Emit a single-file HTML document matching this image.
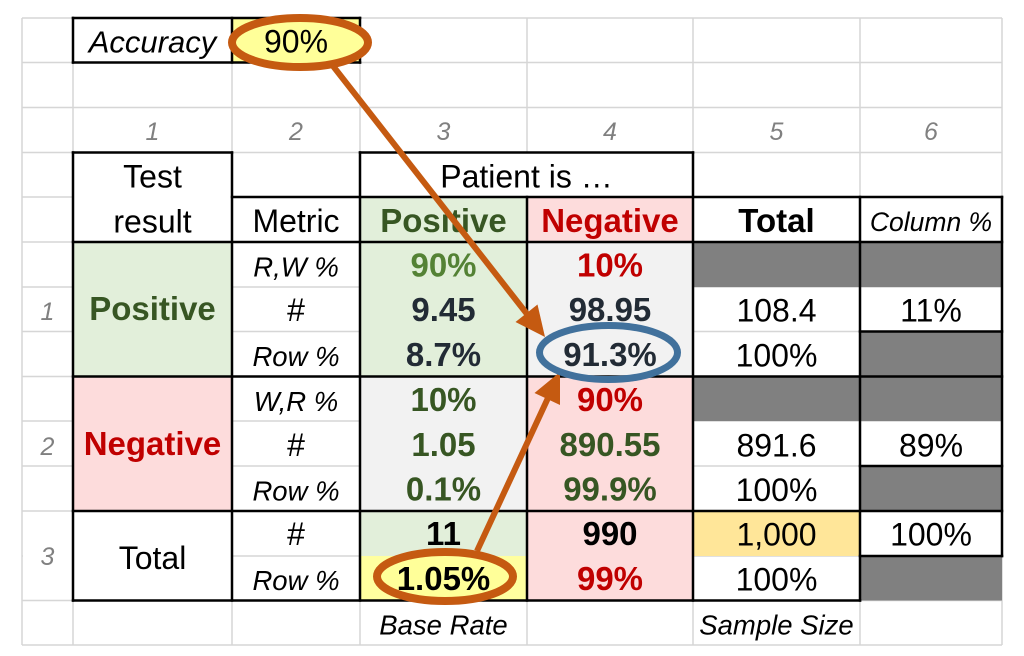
<!DOCTYPE html>
<html>
<head>
<meta charset="utf-8">
<style>
  html,body{margin:0;padding:0;background:#fff;}
  svg{display:block;}
  text{font-family:"Liberation Sans", Arial, sans-serif;}
  .r{font-size:32px;fill:#000;}
  .b{font-size:33px;font-weight:bold;}
  .i{font-size:27.5px;font-style:italic;fill:#000;}
  .n{font-size:25px;font-style:italic;fill:#808080;}
</style>
</head>
<body>
<svg width="1024" height="656" viewBox="0 0 1024 656" xmlns="http://www.w3.org/2000/svg">
  <rect x="0" y="0" width="1024" height="656" fill="#fff"/>

  <!-- light grid -->
  <g stroke="#d6d6d6" stroke-width="1.5">
    <line x1="22" y1="18" x2="1002" y2="18"/>
    <line x1="22" y1="62.5" x2="1002" y2="62.5"/>
    <line x1="22" y1="107.5" x2="1002" y2="107.5"/>
    <line x1="22" y1="152.5" x2="1002" y2="152.5"/>
    <line x1="22" y1="197" x2="1002" y2="197"/>
    <line x1="22" y1="242" x2="1002" y2="242"/>
    <line x1="22" y1="287" x2="1002" y2="287"/>
    <line x1="22" y1="331.5" x2="1002" y2="331.5"/>
    <line x1="22" y1="376.5" x2="1002" y2="376.5"/>
    <line x1="22" y1="421" x2="1002" y2="421"/>
    <line x1="22" y1="466" x2="1002" y2="466"/>
    <line x1="22" y1="511" x2="1002" y2="511"/>
    <line x1="22" y1="556" x2="1002" y2="556"/>
    <line x1="22" y1="600.5" x2="1002" y2="600.5"/>
    <line x1="22" y1="645" x2="1002" y2="645"/>
    <line x1="22" y1="18" x2="22" y2="645"/>
    <line x1="73" y1="18" x2="73" y2="645"/>
    <line x1="232" y1="18" x2="232" y2="645"/>
    <line x1="360" y1="18" x2="360" y2="645"/>
    <line x1="527" y1="18" x2="527" y2="645"/>
    <line x1="693" y1="18" x2="693" y2="645"/>
    <line x1="860" y1="18" x2="860" y2="645"/>
    <line x1="1002" y1="18" x2="1002" y2="645"/>
  </g>

  <!-- merged row-label cell "3" -->
  <rect x="23" y="512" width="49" height="87.5" fill="#fff"/>

  <!-- fills -->
  <rect x="232" y="18" width="128" height="44.5" fill="#FFFF99"/>
  <rect x="74" y="153.5" width="157" height="87.5" fill="#fff"/>
  <rect x="361" y="153.5" width="331" height="42.5" fill="#fff"/>
  <rect x="74" y="512" width="157" height="87.5" fill="#fff"/>

  <rect x="360" y="197" width="167" height="45" fill="#E2EFDA"/>
  <rect x="527" y="197" width="166" height="45" fill="#FDDCDC"/>

  <rect x="73" y="242" width="159" height="134.5" fill="#E2EFDA"/>
  <rect x="360" y="242" width="167" height="134.5" fill="#E2EFDA"/>
  <rect x="527" y="242" width="166" height="134.5" fill="#F2F2F2"/>

  <rect x="73" y="376.5" width="159" height="134.5" fill="#FDDCDC"/>
  <rect x="360" y="376.5" width="167" height="134.5" fill="#F2F2F2"/>
  <rect x="527" y="376.5" width="166" height="134.5" fill="#FDDCDC"/>

  <rect x="360" y="511" width="167" height="45" fill="#E2EFDA"/>
  <rect x="360" y="556" width="167" height="44.5" fill="#FFFF9F"/>
  <rect x="527" y="511" width="166" height="89.5" fill="#FDDCDC"/>
  <rect x="693" y="511" width="167" height="45" fill="#FFE699"/>

  <g fill="#808080">
    <rect x="693" y="242" width="167" height="45"/>
    <rect x="860" y="242" width="142" height="45"/>
    <rect x="860" y="331.5" width="142" height="45"/>
    <rect x="693" y="376.5" width="167" height="44.5"/>
    <rect x="860" y="376.5" width="142" height="44.5"/>
    <rect x="860" y="466" width="142" height="45"/>
    <rect x="860" y="556" width="142" height="44.5"/>
  </g>

  <!-- black borders -->
  <g stroke="#000" stroke-width="2.5" stroke-linecap="square">
    <line x1="73" y1="18" x2="360" y2="18"/>
    <line x1="73" y1="62.5" x2="360" y2="62.5"/>
    <line x1="73" y1="18" x2="73" y2="62.5"/>
    <line x1="232" y1="18" x2="232" y2="62.5"/>
    <line x1="360" y1="18" x2="360" y2="62.5"/>

    <line x1="73" y1="152.5" x2="232" y2="152.5"/>
    <line x1="360" y1="152.5" x2="693" y2="152.5"/>
    <line x1="232" y1="197" x2="1002" y2="197"/>
    <line x1="73" y1="242" x2="1002" y2="242"/>
    <line x1="73" y1="376.5" x2="1002" y2="376.5"/>
    <line x1="73" y1="511" x2="1002" y2="511"/>
    <line x1="73" y1="600.5" x2="860" y2="600.5"/>
    <line x1="860" y1="331.5" x2="1002" y2="331.5"/>
    <line x1="860" y1="466" x2="1002" y2="466"/>
    <line x1="860" y1="556" x2="1002" y2="556"/>

    <line x1="73" y1="152.5" x2="73" y2="600.5"/>
    <line x1="232" y1="152.5" x2="232" y2="600.5"/>
    <line x1="360" y1="152.5" x2="360" y2="600.5"/>
    <line x1="527" y1="197" x2="527" y2="600.5"/>
    <line x1="693" y1="152.5" x2="693" y2="600.5"/>
    <line x1="860" y1="197" x2="860" y2="600.5"/>
    <line x1="1002" y1="197" x2="1002" y2="556"/>
  </g>

  <!-- yellow highlighted ellipses (behind text) -->
  <ellipse cx="300" cy="42.5" rx="68" ry="24.5" fill="#FFFF99" stroke="#C55A11" stroke-width="8"/>
  <ellipse cx="445" cy="576.5" rx="68" ry="24.5" fill="#FFFF99" stroke="#C55A11" stroke-width="8"/>

  <!-- text -->
  <g text-anchor="middle">
    <text x="152.5" y="52.5" font-size="31" font-style="italic" fill="#000">Accuracy</text>
    <text class="r" x="296" y="52.5">90%</text>

    <text class="n" x="152.5" y="140">1</text>
    <text class="n" x="296" y="140">2</text>
    <text class="n" x="443.5" y="140">3</text>
    <text class="n" x="610" y="140">4</text>
    <text class="n" x="776.5" y="140">5</text>
    <text class="n" x="931" y="140">6</text>

    <text class="r" x="152.5" y="187.5">Test</text>
    <text class="r" x="152.5" y="232.5">result</text>
    <text class="r" x="526.5" y="187.5">Patient is …</text>
    <text class="r" x="296" y="232">Metric</text>
    <text class="b" x="443.5" y="232" fill="#375623">Positive</text>
    <text class="b" x="610" y="232" fill="#C00000">Negative</text>
    <text class="b" x="776.5" y="232" fill="#000">Total</text>
    <text x="931" y="231" font-size="26.5" font-style="italic" fill="#000">Column %</text>

    <text class="n" x="47.5" y="320">1</text>
    <text class="n" x="47.5" y="455">2</text>
    <text class="n" x="47.5" y="565">3</text>

    <text class="b" x="152.5" y="320" fill="#375623">Positive</text>
    <text class="b" x="152.5" y="455" fill="#C00000">Negative</text>
    <text class="r" x="152.5" y="569">Total</text>

    <text class="i" x="296" y="276.5">R,W %</text>
    <text class="r" x="296" y="321">#</text>
    <text class="i" x="296" y="366">Row %</text>
    <text class="i" x="296" y="411">W,R %</text>
    <text class="r" x="296" y="456">#</text>
    <text class="i" x="296" y="500.5">Row %</text>
    <text class="r" x="296" y="545">#</text>
    <text class="i" x="296" y="590">Row %</text>

    <text class="b" x="443.5" y="276.5" fill="#548235">90%</text>
    <text class="b" x="443.5" y="321" fill="#222B35">9.45</text>
    <text class="b" x="443.5" y="366" fill="#222B35">8.7%</text>
    <text class="b" x="443.5" y="411" fill="#375623">10%</text>
    <text class="b" x="443.5" y="456" fill="#375623">1.05</text>
    <text class="b" x="443.5" y="500.5" fill="#375623">0.1%</text>
    <text class="b" x="443.5" y="545" fill="#000">11</text>
    <text class="b" x="443.5" y="590" fill="#000">1.05%</text>

    <text class="b" x="610" y="276.5" fill="#C00000">10%</text>
    <text class="b" x="610" y="321" fill="#222B35">98.95</text>
    <text class="b" x="610" y="366" fill="#222B35">91.3%</text>
    <text class="b" x="610" y="411" fill="#C00000">90%</text>
    <text class="b" x="610" y="456" fill="#375623">890.55</text>
    <text class="b" x="610" y="500.5" fill="#375623">99.9%</text>
    <text class="b" x="610" y="545" fill="#000">990</text>
    <text class="b" x="610" y="590" fill="#C00000">99%</text>

    <text class="r" x="776.5" y="321.5">108.4</text>
    <text class="r" x="776.5" y="366.5">100%</text>
    <text class="r" x="776.5" y="456.5">891.6</text>
    <text class="r" x="776.5" y="501">100%</text>
    <text class="r" x="776.5" y="545.5">1,000</text>
    <text class="r" x="776.5" y="590.5">100%</text>

    <text class="r" x="931" y="321.5">11%</text>
    <text class="r" x="931" y="456.5">89%</text>
    <text class="r" x="931" y="545.5">100%</text>

    <text class="i" x="443.5" y="634.5">Base Rate</text>
    <text class="i" x="776.5" y="634.5">Sample Size</text>
  </g>

  <!-- arrows -->
  <g stroke="#C55A11" stroke-width="6" fill="none">
    <line x1="333" y1="66" x2="527" y2="314"/>
    <line x1="477" y1="551" x2="548" y2="398"/>
  </g>
  <g fill="#C55A11">
    <polygon points="545,337 515.5,322 537.5,304.5"/>
    <polygon points="560,372 534.5,393 560,405"/>
  </g>

  <!-- blue ellipse -->
  <ellipse cx="608.5" cy="352.5" rx="69" ry="27" fill="none" stroke="#41719C" stroke-width="7"/>
</svg>
</body>
</html>
